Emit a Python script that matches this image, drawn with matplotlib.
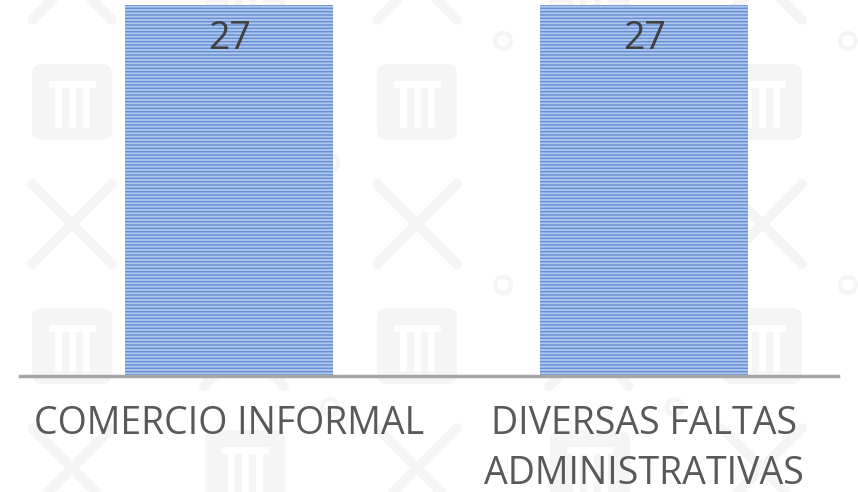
import matplotlib.pyplot as plt
from matplotlib.patches import FancyBboxPatch, Circle
import numpy as np

plt.rcParams['hatch.linewidth'] = 1.1

categories = ['COMERCIO INFORMAL', 'DIVERSAS FALTAS\nADMINISTRATIVAS']
values = [27, 27]

BAR_FACE = '#b0c8ee'
BAR_STRIPE = '#6590d4'
TEXT_COLOUR = '#595959'
AXIS_COLOUR = '#a6a6a6'
MARK_COLOUR = '#f5f5f5'

fig = plt.figure(figsize=(8.58, 4.92), dpi=100)

# faint tiled watermark behind the chart
bg = fig.add_axes([0, 0, 1, 1], zorder=0)
bg.set_xlim(0, 858)
bg.set_ylim(492, 0)
bg.axis('off')
for row, yc in enumerate(np.arange(-20, 560, 122)):
    shift = 0 if row % 2 == 0 else 172
    for xc in np.arange(-100, 960, 345) + shift:
        bg.add_patch(FancyBboxPatch((xc - 40, yc - 38), 80, 76,
                                    boxstyle='round,pad=0,rounding_size=10',
                                    facecolor=MARK_COLOUR, edgecolor='none'))
        for dx in (-14, 0, 14):
            bg.plot([xc + dx, xc + dx], [yc - 14, yc + 22], color='white', lw=5)
        bg.plot([xc - 20, xc + 20], [yc - 18, yc - 18], color='white', lw=5)
        xo = xc + 172
        bg.plot([xo - 40, xo + 40], [yc - 40, yc + 40], color=MARK_COLOUR, lw=7,
                solid_capstyle='round')
        bg.plot([xo - 40, xo + 40], [yc + 40, yc - 40], color=MARK_COLOUR, lw=7,
                solid_capstyle='round')
        bg.add_patch(Circle((xo + 86, yc + 61), 8, facecolor='none',
                            edgecolor=MARK_COLOUR, lw=3))

ax = fig.add_axes([20 / 858, 116 / 492, 818 / 858, 376 / 492], zorder=1)
ax.patch.set_alpha(0)

x = np.arange(len(categories))
bars = ax.bar(x, values, width=0.5, color=BAR_FACE, edgecolor=BAR_STRIPE,
              hatch='-' * 5, linewidth=0)

for bar, v in zip(bars, values):
    ax.annotate(f'{v}', (bar.get_x() + bar.get_width() / 2, v),
                xytext=(0, -11), textcoords='offset points',
                ha='center', va='top', fontsize=27, color='#404040',
                family='Open Sans')

ax.set_xlim(-0.504, 1.467)
ax.set_ylim(0, 27.35)
ax.set_yticks([])
ax.set_xticks(x)
ax.set_xticklabels(categories, fontsize=27, color=TEXT_COLOUR,
                   family='Open Sans', linespacing=1.4)
ax.tick_params(axis='x', length=0, pad=21)
for side in ['top', 'left', 'right']:
    ax.spines[side].set_visible(False)
ax.spines['bottom'].set_color(AXIS_COLOUR)
ax.spines['bottom'].set_linewidth(2.5)

fig.savefig('out.png', dpi=100)
